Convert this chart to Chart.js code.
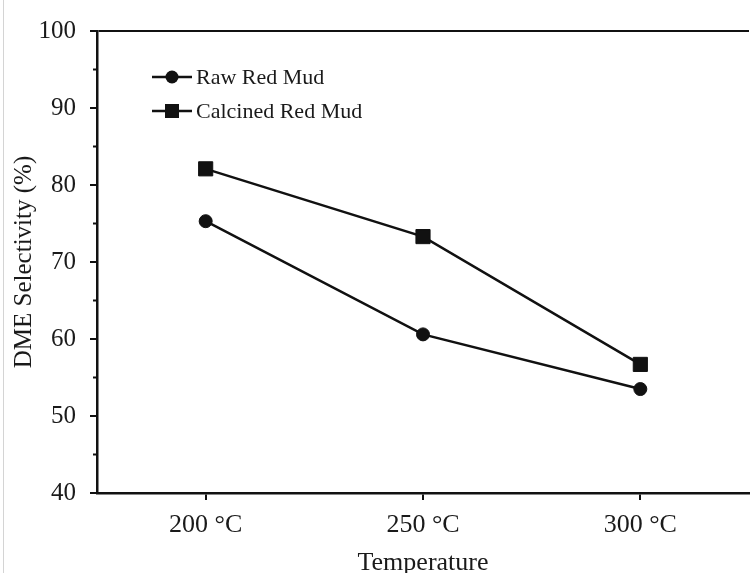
<!DOCTYPE html>
<html>
<head>
<meta charset="utf-8">
<script src="https://cdn.jsdelivr.net/npm/chart.js@4"></script>
<style>
  html, body { margin: 0; padding: 0; background: #fff; overflow: hidden; }
  #wrap { position: relative; width: 760px; height: 573px; }
  #edge { position: absolute; left: 3px; top: 0; width: 1px; height: 573px; background: #d4d4d4; }
</style>
</head>
<body>
<div id="wrap">
  <canvas id="selChart" width="760" height="573"></canvas>
  <div id="edge"></div>
</div>
<script>
const temperatures = ['200 °C', '250 °C', '300 °C'];
const rawRedMud = [75.3, 60.6, 53.5];
const calcinedRedMud = [82.1, 73.3, 56.7];
const minorTicks = [45, 55, 65, 75, 85, 95];

const serif = "'Liberation Serif', 'Times New Roman', serif";
const ink = '#111';

// legend drawn as line + marker, like the original figure
const lineLegend = {
    id: 'lineLegend',
    afterDraw(chart) {
        const c = chart.ctx;
        const x0 = 152, x1 = 192;
        const rows = [77, 111];
        chart.data.datasets.forEach((ds, i) => {
            const y = rows[i];
            c.save();
            c.strokeStyle = ink;
            c.lineWidth = 2.5;
            c.beginPath();
            c.moveTo(x0, y);
            c.lineTo(x1, y);
            c.stroke();
            c.fillStyle = ink;
            if (ds.pointStyle === 'rect') {
                c.fillRect(x0 + 20 - 7, y - 7, 14, 14);
            } else {
                c.beginPath();
                c.arc(x0 + 20, y, 6.5, 0, Math.PI * 2);
                c.fill();
            }
            c.font = '22px ' + serif;
            c.textBaseline = 'middle';
            c.fillStyle = '#1a1a1a';
            c.fillText(ds.label, x1 + 4, y + 1);
            c.restore();
        });
    }
};

// short minor ticks on the y axis
const minorTickPlugin = {
    id: 'minorTicks',
    afterDraw(chart) {
        const c = chart.ctx;
        const y = chart.scales.y;
        c.save();
        c.strokeStyle = ink;
        c.lineWidth = 2;
        minorTicks.forEach(v => {
            const py = y.getPixelForValue(v);
            c.beginPath();
            c.moveTo(y.right - 4, py);
            c.lineTo(y.right, py);
            c.stroke();
        });
        c.restore();
    }
};

const ctx = document.getElementById('selChart').getContext('2d');
const chart = new Chart(ctx, {
    type: 'line',
    data: {
        labels: temperatures,
        datasets: [
            {
                label: 'Raw Red Mud',
                data: rawRedMud,
                borderColor: ink,
                backgroundColor: ink,
                borderWidth: 2.5,
                pointStyle: 'circle',
                pointRadius: 6.5,
                pointBorderWidth: 1,
                tension: 0
            },
            {
                label: 'Calcined Red Mud',
                data: calcinedRedMud,
                borderColor: ink,
                backgroundColor: ink,
                borderWidth: 2.5,
                pointStyle: 'rect',
                pointRadius: 10,
                pointBorderWidth: 1,
                tension: 0
            }
        ]
    },
    options: {
        responsive: false,
        animation: false,
        layout: { padding: { top: 31, left: 8, right: 2, bottom: 0 } },
        plugins: {
            legend: { display: false },
            tooltip: { enabled: false }
        },
        scales: {
            x: {
                type: 'category',
                offset: true,
                border: { color: ink, width: 2.5 },
                grid: { drawOnChartArea: false, color: ink, tickColor: ink, tickLength: 7, lineWidth: 2 },
                ticks: { color: '#1a1a1a', font: { family: serif, size: 26 }, padding: 10 },
                title: { display: true, text: 'Temperature', color: '#1a1a1a', font: { family: serif, size: 26, lineHeight: 1 }, padding: { top: 4, bottom: -3 } },
                afterFit(scale) { scale.height = 80; }
            },
            y: {
                min: 40,
                max: 100,
                border: { color: ink, width: 2.5 },
                grid: {
                    color: c => c.tick && c.tick.value === 100 ? ink : 'rgba(0,0,0,0)',
                    lineWidth: 2,
                    tickColor: ink,
                    tickLength: 7
                },
                ticks: { stepSize: 10, color: '#1a1a1a', font: { family: serif, size: 25 }, padding: 14 },
                title: { display: true, text: 'DME Selectivity (%)', color: '#1a1a1a', font: { family: serif, size: 25, lineHeight: 1 }, padding: { bottom: 4 } },
                afterFit(scale) { scale.width = 89; }
            }
        }
    },
    plugins: [lineLegend, minorTickPlugin]
});
</script>
</body>
</html>
